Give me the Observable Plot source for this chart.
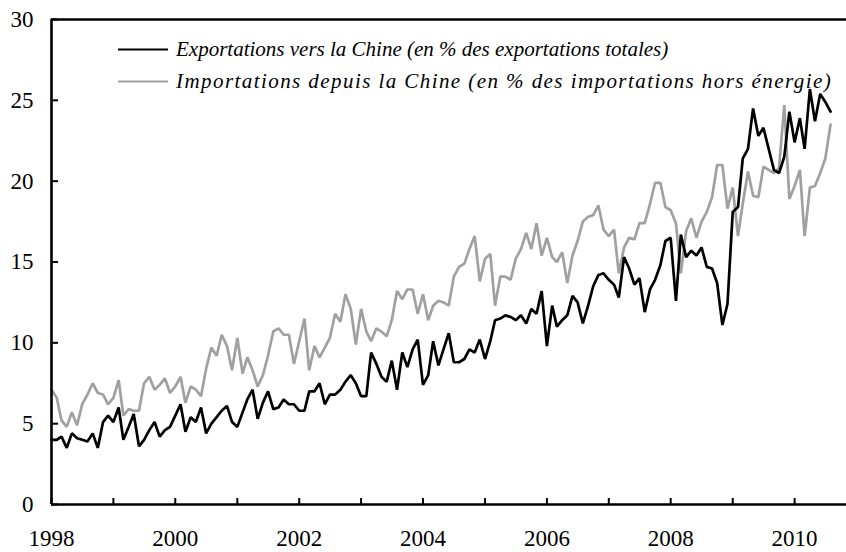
<!DOCTYPE html>
<html><head><meta charset="utf-8">
<script src="https://cdn.jsdelivr.net/npm/d3@7"></script>
<script src="https://cdn.jsdelivr.net/npm/@observablehq/plot@0.6"></script>
<style>
html,body{margin:0;padding:0;background:#fff;}
#wrap{position:relative;width:846px;height:552px;overflow:hidden;}
.leg{position:absolute;left:118px;transform:translateY(-50%);font-family:"Liberation Serif","Times New Roman",serif;font-style:italic;font-size:21px;display:flex;align-items:center;white-space:nowrap;color:#000;}
.leg .sw{width:50px;height:0;border-top:2.6px solid;margin-right:8px;}
</style></head><body><div id="wrap"></div>
<script>
// Monthly data, starting January 1998
const startYear = 1998;
const exportsChina = [
  4.0, 4.0, 4.2, 3.5, 4.4, 4.1, 4.0, 3.9, 4.4, 3.5, 5.1, 5.5,
  5.1, 6.0, 4.0, 4.8, 5.6, 3.6, 4.0, 4.6, 5.1, 4.2, 4.6, 4.8,
  5.5, 6.2, 4.5, 5.4, 5.1, 6.0, 4.4, 5.0, 5.4, 5.8, 6.1, 5.1,
  4.8, 5.7, 6.5, 7.1, 5.3, 6.3, 7.0, 5.9, 6.0, 6.5, 6.2, 6.2,
  5.8, 5.8, 7.0, 7.0, 7.5, 6.2, 6.8, 6.8, 7.1, 7.6, 8.0, 7.5,
  6.7, 6.7, 9.4, 8.7, 7.9, 7.6, 8.9, 7.1, 9.4, 8.5, 9.6, 10.2,
  7.4, 8.0, 10.1, 8.6, 9.6, 10.6, 8.8, 8.8, 9.0, 9.6, 9.4, 10.2,
  9.0, 10.1, 11.4, 11.5, 11.7, 11.6, 11.4, 11.7, 11.2, 12.1, 11.8, 13.2,
  9.8, 12.3, 11.0, 11.4, 11.7, 12.9, 12.5, 11.2, 12.3, 13.5, 14.2, 14.3,
  13.9, 13.6, 12.8, 15.3, 14.6, 13.6, 14.0, 11.9, 13.3, 13.9, 14.8, 16.3,
  16.5, 12.6, 16.7, 15.3, 15.7, 15.4, 15.9, 14.7, 14.6, 13.7, 11.1, 12.4,
  18.1, 18.4, 21.4, 22.0, 24.5, 22.8, 23.3, 22.0, 20.7, 20.5, 21.5, 24.3,
  22.4, 23.9, 22.0, 25.7, 23.7, 25.4, 24.9, 24.3
];
const importsChina = [
  7.1, 6.6, 5.2, 4.8, 5.7, 4.9, 6.2, 6.8, 7.5, 6.9, 6.8, 6.2,
  6.6, 7.7, 5.5, 5.9, 5.8, 5.8, 7.5, 7.9, 7.1, 7.4, 7.8, 6.9,
  7.3, 7.9, 6.3, 7.3, 7.1, 6.7, 8.4, 9.7, 9.2, 10.5, 9.8, 8.3,
  10.3, 8.1, 9.1, 8.3, 7.3, 8.0, 9.2, 10.7, 10.9, 10.5, 10.5, 8.7,
  10.1, 11.5, 8.3, 9.8, 9.1, 9.7, 10.3, 11.8, 11.3, 13.0, 12.1, 9.9,
  12.1, 10.7, 10.1, 10.9, 10.7, 10.4, 11.4, 13.2, 12.7, 13.3, 13.3, 11.8,
  13.0, 11.4, 12.3, 12.6, 12.5, 12.3, 14.1, 14.7, 14.9, 15.8, 16.6, 13.8,
  15.2, 15.5, 12.3, 14.1, 14.1, 13.9, 15.2, 15.8, 16.8, 15.8, 17.4, 15.4,
  16.5, 15.3, 15.0, 15.6, 13.7, 15.4, 16.3, 17.5, 17.8, 17.9, 18.5, 17.0,
  16.6, 17.0, 14.3, 15.9, 16.5, 16.4, 17.4, 17.4, 18.6, 19.9, 19.9, 18.4,
  18.2, 17.4, 14.3, 16.9, 17.7, 16.5, 17.5, 18.1, 19.0, 21.0, 21.0, 18.3,
  19.6, 16.6, 18.6, 20.6, 19.1, 19.0, 20.9, 20.7, 20.5, 20.8, 24.7, 18.9,
  19.7, 20.7, 16.6, 19.6, 19.7, 20.5, 21.4, 23.5
];
const seriesNames = [
  "Exportations vers la Chine (en % des exportations totales)",
  "Importations depuis la Chine (en % des importations hors énergie)"
];
const seriesColors = ["#000000", "#a0a0a0"];
const yTicks = [0, 5, 10, 15, 20, 25, 30];
const xTickYears = [1998, 1999, 2000, 2001, 2002, 2003, 2004, 2005, 2006, 2007, 2008, 2009, 2010];
const xLabelYears = [1998, 2000, 2002, 2004, 2006, 2008, 2010];

const month = i => new Date(Date.UTC(startYear, i, 1));
const exp = exportsChina.map((v, i) => ({date: month(i), value: v}));
const imp = importsChina.map((v, i) => ({date: month(i), value: v}));
const yr = y => new Date(Date.UTC(y, 0, 1));
const x0 = yr(1998), x1 = new Date(Date.UTC(2010, 10, 3));

const W = 846, H = 552, mL = 51, mR = 0, mT = 19, mB = 48;
const frameW = W - mL - mR, frameH = H - mT - mB;
const font = '"Liberation Serif", "Times New Roman", serif';
const chart = Plot.plot({
  width: W,
  height: H,
  marginLeft: mL,
  marginRight: mR,
  marginTop: mT,
  marginBottom: mB,
  style: {fontFamily: font, fontSize: "23px", background: "white", color: "black"},
  x: {type: "utc", domain: [x0, x1], axis: null},
  y: {domain: [0, 30], axis: null},
  marks: [
    Plot.line(imp, {x: "date", y: "value", stroke: seriesColors[1], strokeWidth: 2.7, strokeLinejoin: "miter"}),
    Plot.line(exp, {x: "date", y: "value", stroke: seriesColors[0], strokeWidth: 2.7, strokeLinejoin: "miter"}),
    Plot.ruleY([0, 30], {stroke: "black", strokeWidth: 2.6}),
    Plot.ruleX([x0], {stroke: "black", strokeWidth: 2.6}),
    Plot.tickY(yTicks, {y: d => d, stroke: "black", strokeWidth: 2, insetRight: frameW - 7}),
    Plot.tickX(xTickYears.map(yr), {x: d => d, stroke: "black", strokeWidth: 2, insetTop: frameH - 6}),
    Plot.axisY(yTicks, {tickSize: 0, tickPadding: 18, fontSize: 23, fill: "black", label: null}),
    Plot.axisX(xLabelYears.map(yr), {tickSize: 0, tickPadding: 25, fontSize: 23, fill: "black", label: null, tickFormat: d3.utcFormat("%Y")})
  ]
});
const wrap = document.getElementById("wrap");
wrap.appendChild(chart);
const legTops = [49, 81];
const legSpacing = ["0px", "1.43px"];
seriesNames.forEach((name, i) => {
  const row = document.createElement("div");
  row.className = "leg";
  row.style.top = legTops[i] + "px";
  const sw = document.createElement("span");
  sw.className = "sw";
  sw.style.borderTopColor = seriesColors[i];
  const t = document.createElement("span");
  t.textContent = name;
  t.style.letterSpacing = legSpacing[i];
  row.appendChild(sw);
  row.appendChild(t);
  wrap.appendChild(row);
});
</script>
</body></html>
